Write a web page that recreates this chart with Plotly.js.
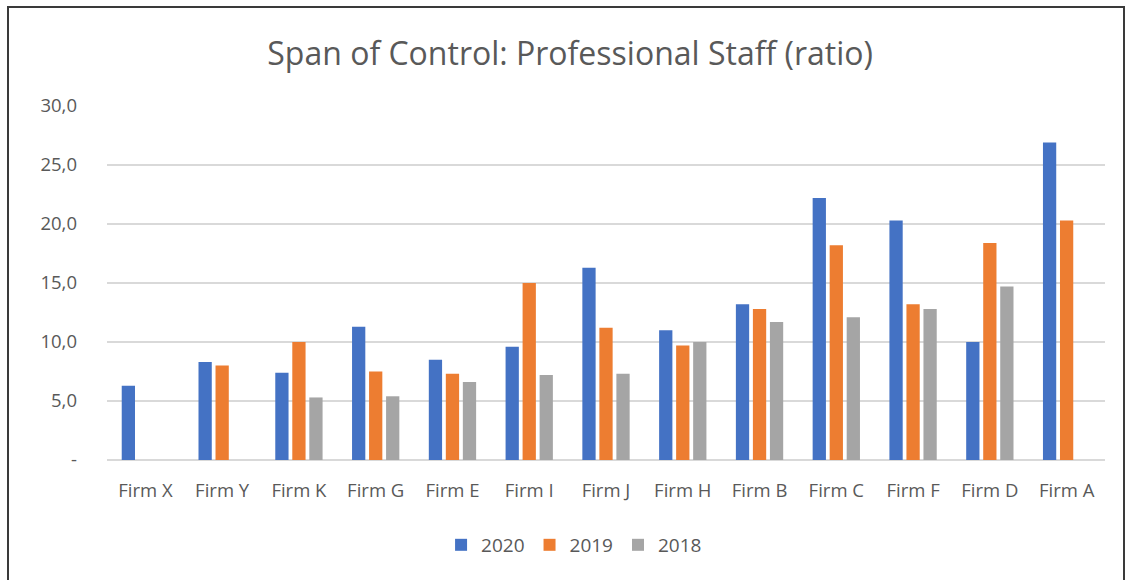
<!DOCTYPE html>
<html>
<head>
<meta charset="utf-8">
<script src="https://cdn.plot.ly/plotly-3.0.1.min.js"></script>
<style>
  html, body { margin: 0; padding: 0; background: #ffffff; }
  #wrap { position: relative; width: 1129px; height: 580px; overflow: hidden; }
  #chart { position: absolute; left: 0; top: 0; width: 1129px; height: 580px; }
  #frame { position: absolute; left: 7px; top: 6px; width: 1118px; height: 580px;
           border: 2px solid #3a3a3a; box-sizing: border-box; pointer-events: none; }
</style>
</head>
<body>
<div id="wrap">
  <div id="chart"></div>
  <div id="frame"></div>
</div>
<script>
const categories = ["Firm X", "Firm Y", "Firm K", "Firm G", "Firm E", "Firm I", "Firm J",
                    "Firm H", "Firm B", "Firm C", "Firm F", "Firm D", "Firm A"];
const values2020 = [6.3, 8.3, 7.4, 11.3, 8.5, 9.6, 16.3, 11.0, 13.2, 22.2, 20.3, 10.0, 26.9];
const values2019 = [null, 8.0, 10.0, 7.5, 7.3, 15.0, 11.2, 9.7, 12.8, 18.2, 13.2, 18.4, 20.3];
const values2018 = [null, null, 5.3, 5.4, 6.6, 7.2, 7.3, 10.0, 11.7, 12.1, 12.8, 14.7, null];
const seriesNames = ["2020", "2019", "2018"];
const tickVals = [0, 5, 10, 15, 20, 25, 30];
const tickText = ["-", "5,0", "10,0", "15,0", "20,0", "25,0", "30,0"];

const colors = ["#4472C4", "#ED7D31", "#A5A5A5"];
const data = [values2020, values2019, values2018].map((v, i) => ({
  type: "bar", x: categories, y: v, name: seriesNames[i],
  marker: { color: colors[i] }, hoverinfo: "x+y+name"
}));

const layout = {
  width: 1129, height: 580,
  paper_bgcolor: "rgba(0,0,0,0)", plot_bgcolor: "#ffffff",
  font: { family: "Open Sans, sans-serif", color: "#595959" },
  margin: { l: 107, r: 24, t: 106, b: 120 },
  title: { text: "Span of Control: Professional Staff (ratio)",
           font: { size: 32, color: "#595959", family: "Open Sans, sans-serif" },
           x: 0.505, xanchor: "center", y: 0.907, yanchor: "middle" },
  barmode: "group", bargap: 0.335, bargroupgap: 0.22,
  xaxis: { type: "category", showgrid: false, zeroline: false, showline: false,
           ticks: "", tickfont: { size: 18.5, color: "#595959" }, ticklabelstandoff: 17 },
  yaxis: { range: [0, 30], tickvals: tickVals, ticktext: tickText,
           showgrid: true, gridcolor: "#d9d9d9", gridwidth: 1.5,
           zeroline: true, zerolinecolor: "#d9d9d9", zerolinewidth: 1.5,
           showline: false, ticks: "", tickfont: { size: 18.5, color: "#595959" },
           ticklabelstandoff: 29 },
  showlegend: true,
  legend: { orientation: "h", x: 0.468, xanchor: "center", y: -0.24, yanchor: "middle",
            font: { size: 19, color: "#595959" }, traceorder: "normal",
            itemwidth: 30 }
};

Plotly.newPlot("chart", data, layout, { displayModeBar: false, staticPlot: true });
</script>
</body>
</html>
